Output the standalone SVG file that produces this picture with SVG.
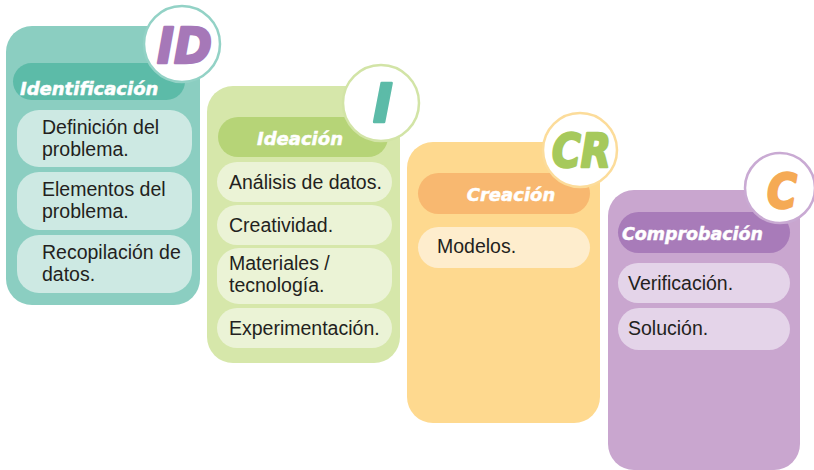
<svg xmlns="http://www.w3.org/2000/svg" width="814" height="470" viewBox="0 0 814 470">
<style>
.hd{font-family:"DejaVu Sans",sans-serif;font-weight:bold;font-style:italic;font-size:18px;fill:#ffffff;stroke:#ffffff;stroke-width:0.5}
.big{font-family:"DejaVu Sans",sans-serif;font-weight:bold;font-style:italic;stroke-width:2.5;stroke-linejoin:round}
.tx{font-family:"Liberation Sans",Arial,sans-serif;font-size:19.5px;fill:#231f20}
.c{fill:#ffffff;stroke-width:2.5}
</style>
<rect width="814" height="470" fill="#ffffff"/>
<g id="identificacion">
<rect x="6" y="26" width="194" height="279" rx="26" fill="#8bcec1"/>
<rect x="13" y="63" width="172" height="37" rx="18.5" fill="#5cbba8"/>
<text class="hd" x="20" y="95">Identificación</text>
<rect x="17" y="110" width="175" height="57" rx="22" fill="#cde9e3"/>
<text class="tx" x="42" y="134">Definición del<tspan x="42" dy="22">problema.</tspan></text>
<rect x="17" y="172" width="175" height="58" rx="22" fill="#cde9e3"/>
<text class="tx" x="42" y="196">Elementos del<tspan x="42" dy="22">problema.</tspan></text>
<rect x="17" y="235" width="175" height="58" rx="22" fill="#cde9e3"/>
<text class="tx" x="42" y="259">Recopilación de<tspan x="42" dy="22">datos.</tspan></text>
<circle class="c" cx="182" cy="44" r="38" stroke="#93d2c6"/>
<text class="big" x="157" y="63" font-size="50" fill="#a678b8" stroke="#a678b8" textLength="55" lengthAdjust="spacingAndGlyphs">ID</text>
</g>
<g id="ideacion">
<rect x="207" y="86" width="193" height="277" rx="26" fill="#d6e7aa"/>
<rect x="218" y="117" width="170" height="40" rx="20" fill="#b6d477"/>
<text class="hd" x="300" y="145" text-anchor="middle">Ideación</text>
<rect x="217" y="162" width="175" height="40" rx="20" fill="#ebf3d6"/>
<text class="tx" x="229" y="189">Análisis de datos.</text>
<rect x="217" y="205" width="175" height="40" rx="20" fill="#ebf3d6"/>
<text class="tx" x="229" y="232">Creatividad.</text>
<rect x="217" y="248" width="175" height="56" rx="22" fill="#ebf3d6"/>
<text class="tx" x="229" y="270">Materiales /<tspan x="229" dy="22">tecnología.</tspan></text>
<rect x="217" y="308" width="175" height="40" rx="20" fill="#ebf3d6"/>
<text class="tx" x="229" y="335">Experimentación.</text>
<circle class="c" cx="381" cy="103" r="38" stroke="#d2e4a6"/>
<text class="big" x="373" y="122" font-size="53" fill="#5cbba8" stroke="#5cbba8">I</text>
</g>
<g id="creacion">
<rect x="407" y="142" width="193" height="281" rx="26" fill="#fed98f"/>
<rect x="418" y="173" width="172" height="41" rx="20.5" fill="#f8b870"/>
<text class="hd" x="511" y="201" text-anchor="middle">Creación</text>
<rect x="418" y="227" width="172" height="41" rx="20.5" fill="#feedcd"/>
<text class="tx" x="437" y="253">Modelos.</text>
<circle class="c" cx="580" cy="150" r="37" stroke="#fcdc9a"/>
<text class="big" x="552" y="167" font-size="46" fill="#a6c95c" stroke="#a6c95c" textLength="59" lengthAdjust="spacingAndGlyphs">CR</text>
</g>
<g id="comprobacion">
<rect x="608" y="190" width="192" height="280" rx="26" fill="#c9a6cf"/>
<rect x="618" y="212" width="172" height="41" rx="20.5" fill="#a87bb9"/>
<text class="hd" x="622" y="240" textLength="141" lengthAdjust="spacingAndGlyphs">Comprobación</text>
<rect x="618" y="263" width="172" height="40" rx="20" fill="#e4d4e9"/>
<text class="tx" x="628" y="290">Verificación.</text>
<rect x="618" y="308" width="172" height="42" rx="21" fill="#e4d4e9"/>
<text class="tx" x="628" y="335">Solución.</text>
<circle class="c" cx="780" cy="188" r="35" stroke="#c9aad3"/>
<text class="big" x="767" y="208" font-size="48" fill="#f5aa55" stroke="#f5aa55" textLength="30" lengthAdjust="spacingAndGlyphs">C</text>
</g>
</svg>
